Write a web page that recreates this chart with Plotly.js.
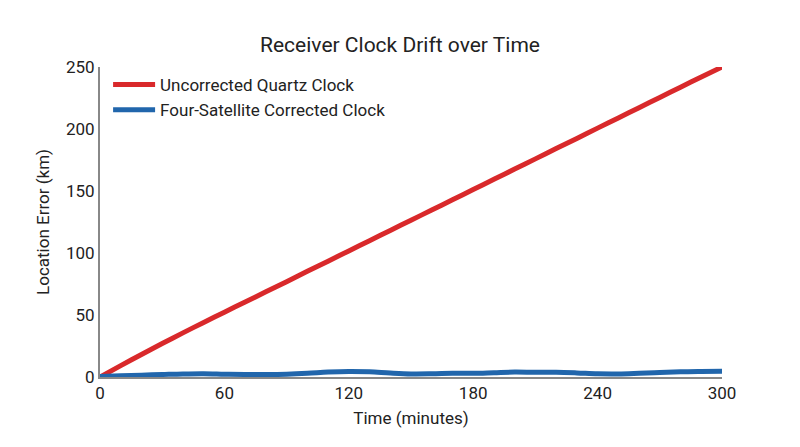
<!DOCTYPE html>
<html><head><meta charset="utf-8">
<script src="https://cdn.plot.ly/plotly-3.0.1.min.js"></script>
<style>html,body{margin:0;padding:0;background:#fff}#c{width:800px;height:447px}</style>
</head><body><div id="c"></div>
<script>
const timeMinutes = [0,10,20,30,40,50,60,70,80,90,100,110,120,130,140,150,160,170,180,190,200,210,220,230,240,250,260,270,280,290,300];
const quartzError = [0,9.2,18.2,27,35.6,44,52.3,60.5,68.7,76.9,85.2,93.4,101.7,109.9,118.2,126.4,134.7,142.9,151.2,159.4,167.7,175.9,184.2,192.4,200.7,208.9,217.2,225.4,233.7,241.9,250];
const correctedError = [0.5,1,1.5,2,2.5,2.7,2.3,2,2,2.3,3,4,4.5,4.2,3.2,2.5,2.6,3,3,3.5,4,3.8,3.8,3.3,2.6,2.5,3,3.6,4.2,4.5,4.7];
const xTicks = [0,60,120,180,240,300];
const yTicks = [0,50,100,150,200,250];

const traces = [
  {x: timeMinutes, y: quartzError, mode:'lines', name:'Uncorrected Quartz Clock',
   line:{color:'#d9292b', width:5, shape:'spline', smoothing:0.6}},
  {x: timeMinutes, y: correctedError, mode:'lines', name:'Four-Satellite Corrected Clock',
   line:{color:'#2166ac', width:5, shape:'spline'}}
];
const layout = {
  width:800, height:447,
  margin:{l:100, r:78, t:67, b:70},
  paper_bgcolor:'#fff', plot_bgcolor:'#fff',
  font:{family:'Roboto, sans-serif', size:17, color:'#222'},
  title:{text:'Receiver Clock Drift over Time', font:{size:21, color:'#222'}, x:0.5, xanchor:'center', y:0.9, yanchor:'middle'},
  xaxis:{range:[0,300], tickvals:xTicks, showgrid:false, zeroline:false, showline:true, linecolor:'#888', linewidth:2,
    ticks:'', tickfont:{size:17}, title:{text:'Time (minutes)', font:{size:17}, standoff:10}},
  yaxis:{range:[0,250], tickvals:yTicks, showgrid:false, zeroline:false, showline:true, linecolor:'#888', linewidth:2,
    ticks:'', tickfont:{size:17}, title:{text:'Location Error (km)', font:{size:17}, standoff:12}},
  legend:{x:0.013, y:1.0, xanchor:'left', yanchor:'top', bgcolor:'rgba(0,0,0,0)', font:{size:17}, itemwidth:42, tracegroupgap:0},
  showlegend:true
};
Plotly.newPlot('c', traces, layout, {displayModeBar:false, staticPlot:true});
</script></body></html>
